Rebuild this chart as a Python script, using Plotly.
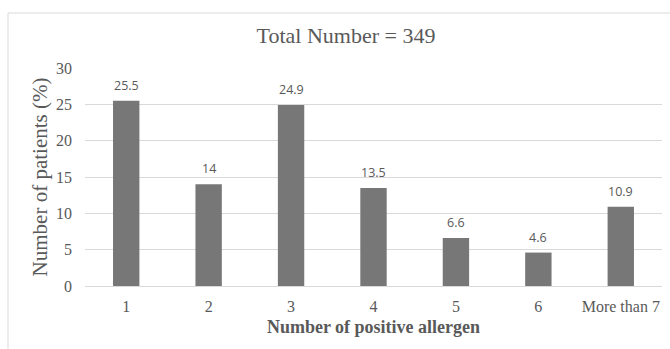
import plotly.graph_objects as go

categories = ["1", "2", "3", "4", "5", "6", "More than 7"]
values = [25.5, 14, 24.9, 13.5, 6.6, 4.6, 10.9]
labels = ["25.5", "14", "24.9", "13.5", "6.6", "4.6", "10.9"]
y_ticks = [0, 5, 10, 15, 20, 25, 30]

W, H = 670, 349
L, R, T, B = 85, 8, 68, 63
pw, ph = W - L - R, H - T - B

def px(x):
    return (x - L) / pw

def py(y):
    return (H - B - y) / ph

serif = "Liberation Serif, Times New Roman, serif"

fig = go.Figure(go.Bar(
    x=categories, y=values,
    marker=dict(color="#777777", line=dict(width=0)),
    hoverinfo="skip",
))

annotations = [
    dict(x=i, y=v, text=t, xref="x", yref="y", showarrow=False, yshift=15.5,
         font=dict(family="Open Sans, Liberation Sans, sans-serif", size=12.5, color="#595959"))
    for i, (v, t) in enumerate(zip(values, labels))
]

fig.update_layout(
    width=W, height=H,
    margin=dict(l=L, r=R, t=T, b=B),
    paper_bgcolor="white", plot_bgcolor="white",
    bargap=0.68,
    showlegend=False,
    title=dict(text="Total Number = 349", xref="container", x=346 / W, xanchor="center",
               y=1 - 35 / H, yanchor="middle",
               font=dict(family=serif, size=22, color="#595959")),
    xaxis=dict(
        automargin=False,
        tickfont=dict(family=serif, size=16, color="#595959"),
        showgrid=False, showline=True, linecolor="#d9d9d9", linewidth=1,
        ticks="", ticklabelstandoff=6,
        title=dict(text="<b>Number of positive allergen</b>",
                   font=dict(family=serif, size=18, color="#595959"),
                   standoff=6),
    ),
    yaxis=dict(
        automargin=False,
        range=[0, 30], tickvals=y_ticks,
        tickfont=dict(family=serif, size=16, color="#595959"),
        showgrid=True, gridcolor="#d9d9d9", gridwidth=1, zeroline=False,
        ticks="", ticklabelstandoff=12,
        title=dict(text="Number of patients (%)",
                   font=dict(family=serif, size=21, color="#595959"),
                   standoff=2),
    ),
    annotations=annotations,
    shapes=[dict(type="rect", xref="paper", yref="paper",
                 x0=px(8), x1=px(680), y0=py(13), y1=py(360),
                 line=dict(color="#d9d9d9", width=1), fillcolor="rgba(0,0,0,0)",
                 layer="below")],
)

fig.write_html("out.html", config={"displayModeBar": False},
               post_script="document.body.style.margin='0';")
